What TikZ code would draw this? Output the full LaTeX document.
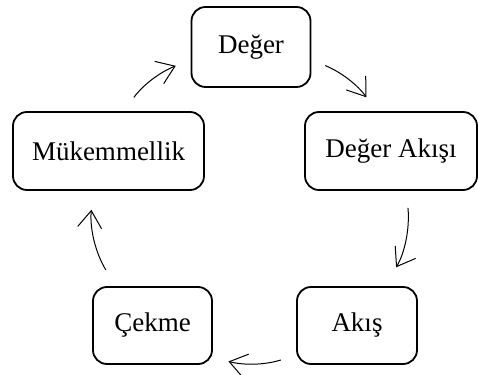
\documentclass[tikz,border=0pt]{standalone}
\usepackage{fontspec}
\setmainfont{Liberation Serif}
\usetikzlibrary{arrows.meta}

\tikzset{
    stage/.style={draw, line width=1.8pt, rounded corners=14pt, inner sep=0pt,
        font=\fontsize{27}{31}\selectfont},
    cycarrow/.style={line width=1pt, -{Straight Barb[length=17pt,width=24pt,line width=1pt]},
        shorten <=17pt, shorten >=17pt}
}

\begin{document}
\begin{tikzpicture}[x=1pt, y=1pt]

                    \useasboundingbox (-250, -169) rectangle (228, 205);

                    % the five stages round the cycle
                    \node[stage, minimum width=119pt, minimum height=80pt] (deger) at (1, 158) {Değer};
                    \node[stage, minimum width=172pt, minimum height=78pt] (akisi) at (141, 54) {Değer Akışı};
                    \node[stage, minimum width=120pt, minimum height=77pt] (akis) at (107, -120.5) {Akış};
                    \node[stage, minimum width=119pt, minimum height=77pt] (cekme) at (-97.5, -120.5) {Çekme};
                    \node[stage, minimum width=191pt, minimum height=78pt] (mukemmel) at (-141.5, 54) {Mükemmellik};

                    % arrows between the stages
                    \draw[cycarrow, shorten <=15pt] (deger.-12) to[out=-22.5, in=126] (akisi.110);
                    \draw[cycarrow, shorten >=22pt] (akisi.-69) to[out=-84.5, in=58.5] (akis.55);
                    \draw[cycarrow, shorten <=16pt, shorten >=16pt] (akis.206) to[out=197.4, in=-14] (cekme.-28);
                    \draw[cycarrow, shorten <=19pt, shorten >=19pt] (cekme.133) to[out=121.5, in=-95.5] (mukemmel.249);
                    \draw[cycarrow, shorten >=16pt] (mukemmel.69) to[out=53.7, in=202] (deger.192);

\end{tikzpicture}
\end{document}
